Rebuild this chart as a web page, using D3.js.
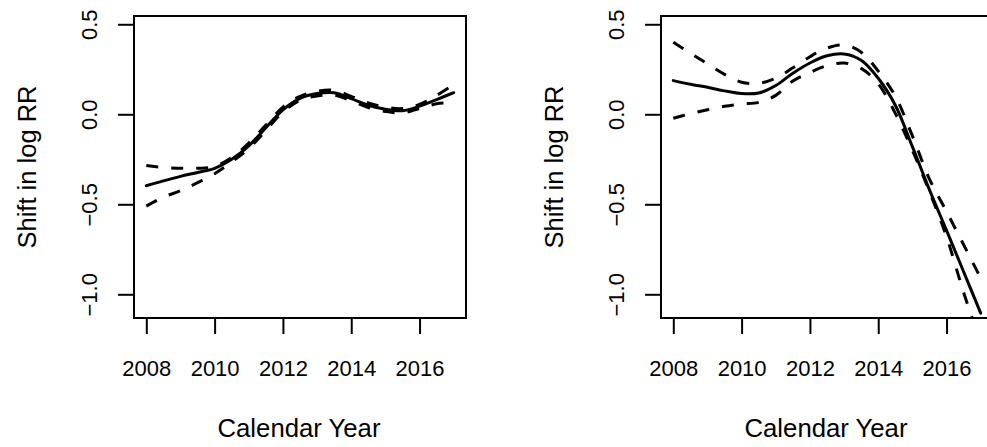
<!DOCTYPE html>
<html>
<head>
<meta charset="utf-8">
<script src="https://cdn.jsdelivr.net/npm/d3@7"></script>
<style>
  html, body { margin: 0; padding: 0; background: #fff; }
  svg { display: block; }
  text { font-family: "Liberation Sans", Arial, Helvetica, sans-serif; fill: #000; }
</style>
</head>
<body>
<svg id="chart" width="987" height="447"></svg>
<script>
// ---------- data ----------
const years = [2008, 2008.5, 2009, 2009.5, 2010, 2010.5, 2011, 2011.5, 2012, 2012.5,
               2013, 2013.5, 2014, 2014.5, 2015, 2015.5, 2016, 2016.5, 2017];

const leftFit   = [-0.397, -0.370, -0.345, -0.323, -0.300, -0.250, -0.175, -0.075, 0.025, 0.089,
                   0.115, 0.120, 0.087, 0.050, 0.028, 0.020, 0.045, 0.082, 0.120];
const leftUpper = [-0.285, -0.295, -0.300, -0.300, -0.290, -0.240, -0.160, -0.060, 0.040, 0.100,
                   0.128, 0.133, 0.100, 0.063, 0.040, 0.032, 0.055, 0.105, 0.165];
const leftLower = [-0.510, -0.460, -0.425, -0.380, -0.330, -0.265, -0.190, -0.090, 0.012, 0.078,
                   0.102, 0.107, 0.075, 0.038, 0.016, 0.008, 0.033, 0.058, 0.065];

const rightFit   = [0.187, 0.167, 0.150, 0.130, 0.115, 0.118, 0.160, 0.228, 0.285, 0.325,
                    0.335, 0.300, 0.200, 0.050, -0.180, -0.420, -0.645, -0.875, -1.105];
const rightUpper = [0.400, 0.340, 0.280, 0.222, 0.178, 0.172, 0.200, 0.258, 0.320, 0.368,
                    0.385, 0.345, 0.240, 0.100, -0.120, -0.360, -0.540, -0.725, -0.910];
const rightLower = [-0.022, 0.003, 0.025, 0.045, 0.057, 0.066, 0.105, 0.185, 0.232, 0.270,
                    0.285, 0.255, 0.170, 0.005, -0.200, -0.430, -0.680, -0.990, -1.270];

const xTickValues = [2008, 2010, 2012, 2014, 2016];
const yTickValues = [0.5, 0.0, -0.5, -1.0];
const xTitle = "Calendar Year";
const yTitle = "Shift in log RR";

// ---------- drawing ----------
const svg = d3.select("#chart");
const font = '"Liberation Sans", Arial, Helvetica, sans-serif';
const boxW = 332, boxTop = 16, boxBottom = 318;
const fmtY = d => (d < 0 ? "\u2212" : "") + Math.abs(d).toFixed(1);

const panels = [
  { left: 134, fit: leftFit, upper: leftUpper, lower: leftLower },
  { left: 661, fit: rightFit, upper: rightUpper, lower: rightLower }
];

panels.forEach((p, i) => {
  const x = d3.scaleLinear().domain([2007.64, 2017.36]).range([p.left, p.left + boxW]);
  const y = d3.scaleLinear().domain([-1.1317, 0.546]).range([boxBottom, boxTop]);

  const clipId = "clip" + i;
  svg.append("clipPath").attr("id", clipId)
    .append("rect")
    .attr("x", p.left).attr("y", boxTop)
    .attr("width", boxW).attr("height", boxBottom - boxTop);

  const line = d3.line()
    .x((d, k) => x(years[k]))
    .y(d => y(d))
    .curve(d3.curveCatmullRom.alpha(0.5));

  const g = svg.append("g").attr("clip-path", `url(#${clipId})`);
  g.append("path").datum(p.fit).attr("d", line)
    .attr("fill", "none").attr("stroke", "#000").attr("stroke-width", 3)
    .attr("stroke-linejoin", "round").attr("stroke-linecap", "round");
  [p.upper, p.lower].forEach(arr => {
    g.append("path").datum(arr).attr("d", line)
      .attr("fill", "none").attr("stroke", "#000").attr("stroke-width", 3)
      .attr("stroke-dasharray", "12,13");
  });

  // box
  svg.append("rect")
    .attr("x", p.left).attr("y", boxTop)
    .attr("width", boxW).attr("height", boxBottom - boxTop)
    .attr("fill", "none").attr("stroke", "#000").attr("stroke-width", 2);

  // x axis
  const xa = svg.append("g").attr("transform", `translate(0,${boxBottom})`)
    .call(d3.axisBottom(x).tickValues(xTickValues).tickSize(16).tickPadding(26)
      .tickFormat(d3.format("d")));
  xa.select(".domain").remove();
  xa.selectAll("line").attr("stroke-width", 2);
  xa.attr("font-family", font).attr("font-size", 22);
  xa.selectAll("text").attr("fill", "#000");

  // y axis
  const ya = svg.append("g").attr("transform", `translate(${p.left},0)`)
    .call(d3.axisLeft(y).tickValues(yTickValues).tickSize(16).tickFormat(fmtY));
  ya.select(".domain").remove();
  ya.selectAll("line").attr("stroke-width", 2);
  ya.attr("font-family", font).attr("font-size", 22);
  ya.selectAll("text")
    .attr("x", null).attr("dy", null)
    .attr("text-anchor", "middle")
    .attr("fill", "#000")
    .attr("transform", "translate(-37,0) rotate(-90)");

  // titles
  svg.append("text")
    .attr("x", p.left + boxW / 2 - 1).attr("y", 437)
    .attr("text-anchor", "middle")
    .attr("font-size", 25.5)
    .attr("textLength", 163).attr("lengthAdjust", "spacingAndGlyphs")
    .text(xTitle);
  svg.append("text")
    .attr("transform", `translate(${p.left - 98.5},${(boxTop + boxBottom) / 2}) rotate(-90)`)
    .attr("text-anchor", "middle")
    .attr("font-size", 25.5)
    .attr("textLength", 163).attr("lengthAdjust", "spacingAndGlyphs")
    .text(yTitle);
});
</script>
</body>
</html>
